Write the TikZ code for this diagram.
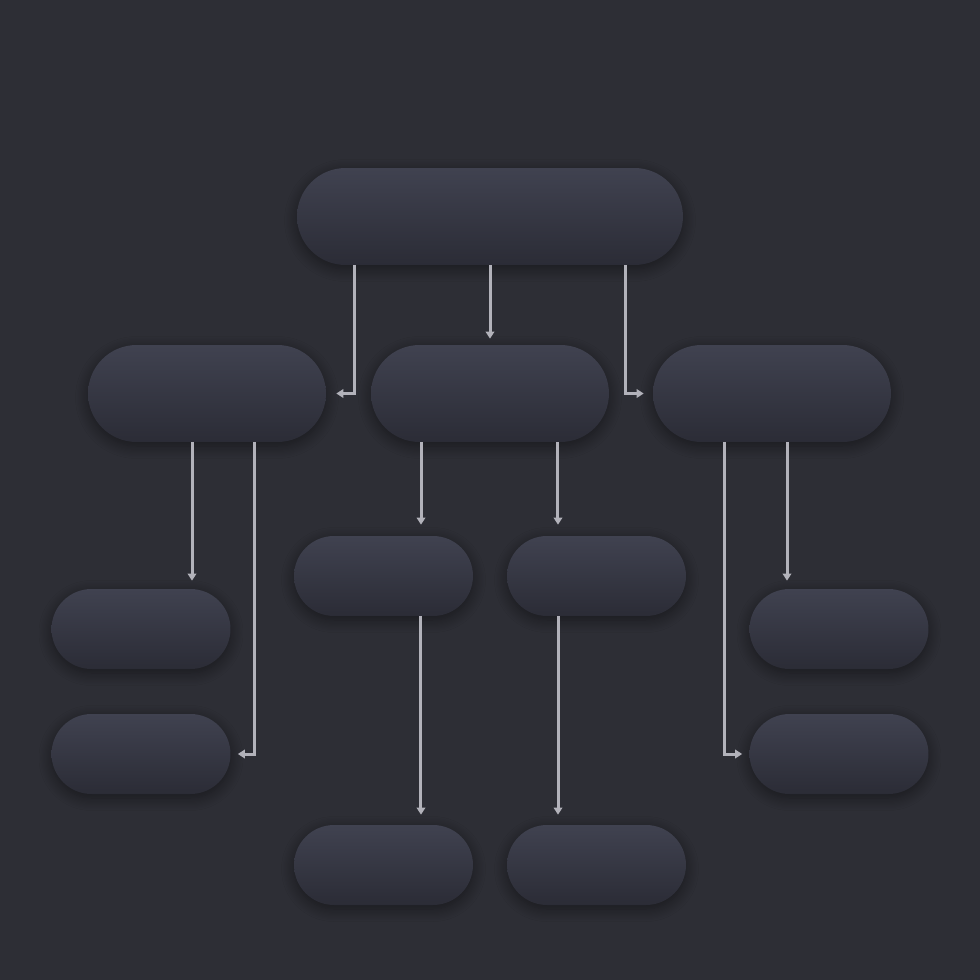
\documentclass[tikz,border=0pt]{standalone}
\usepackage{tikz}
\usetikzlibrary{arrows.meta,shadows.blur}
\definecolor{bgcol}{RGB}{45,46,53}
\definecolor{pilltop}{RGB}{64,66,80}
\definecolor{pillbot}{RGB}{43,44,54}
\definecolor{linkcol}{RGB}{178,178,186}
\tikzset{
  pill/.style={draw=none, top color=pilltop, bottom color=pillbot,
    blur shadow={shadow xshift=0cm, shadow yshift=-0.08cm, shadow blur radius=0.25cm, shadow opacity=45, shadow blur steps=12}},
  bigpill/.style={pill, minimum width=4.76cm, minimum height=1.94cm, rounded corners=0.97cm},
  widepill/.style={pill, minimum width=7.72cm, minimum height=1.94cm, rounded corners=0.97cm},
  smallpill/.style={pill, minimum width=3.58cm, minimum height=1.6cm, rounded corners=0.8cm},
  link/.style={draw=linkcol, line width=0.06cm, -{Triangle[length=0.14cm,width=0.17cm]}}
}
\newcommand{\pill}[4]{\node[#1, inner sep=0pt] (#2) at ( #3 , #4 ) {};}

\begin{document}
\begin{tikzpicture}[x=0.02cm,y=-0.02cm]
        \fill[bgcol] (0,0) rectangle (980,980);
        \useasboundingbox (0,0) rectangle (980,980);

        % row1
        \pill{widepill}{top}{490}{216.5}

        % row2
        \pill{bigpill}{left}{207}{393.5}
        \pill{bigpill}{mid}{490}{393.5}
        \pill{bigpill}{right}{772}{393.5}

        % row3
        \pill{smallpill}{midA}{383.5}{576}
        \pill{smallpill}{midB}{596.5}{576}
        \pill{smallpill}{leftA}{141}{629}
        \pill{smallpill}{rightA}{839}{629}

        % row4
        \pill{smallpill}{leftB}{141}{754}
        \pill{smallpill}{rightB}{839}{754}

        % row5
        \pill{smallpill}{midC}{383.5}{865}
        \pill{smallpill}{midD}{596.5}{865}

        % links from top
        \draw[link, shorten >=0.2cm] ([xshift=-2.72cm]top.south) |- (left.east);
        \draw[link, shorten >=0.12cm] (top.south) -- (mid.north);
        \draw[link, shorten >=0.18cm] ([xshift=2.72cm]top.south) |- (right.west);

        % links from left
        \draw[link, shorten >=0.16cm] ([xshift=-0.3cm]left.south) coordinate (l1) -- (l1 |- leftA.north);
        \draw[link, shorten >=0.14cm] ([xshift=0.96cm]left.south) |- (leftB.east);

        % links from mid
        \draw[link, shorten >=0.22cm] ([xshift=-1.38cm]mid.south) coordinate (m1) -- (m1 |- midA.north);
        \draw[link, shorten >=0.22cm] ([xshift=1.36cm]mid.south) coordinate (m2) -- (m2 |- midB.north);
        \draw[link, shorten >=0.2cm] ([xshift=0.75cm]midA.south) coordinate (m3) -- (m3 |- midC.north);
        \draw[link, shorten >=0.2cm] ([xshift=-0.77cm]midB.south) coordinate (m4) -- (m4 |- midD.north);

        % links from right
        \draw[link, shorten >=0.14cm] ([xshift=-0.96cm]right.south) |- (rightB.west);
        \draw[link, shorten >=0.16cm] ([xshift=0.3cm]right.south) coordinate (r1) -- (r1 |- rightA.north);
    \end{tikzpicture}
\end{document}
